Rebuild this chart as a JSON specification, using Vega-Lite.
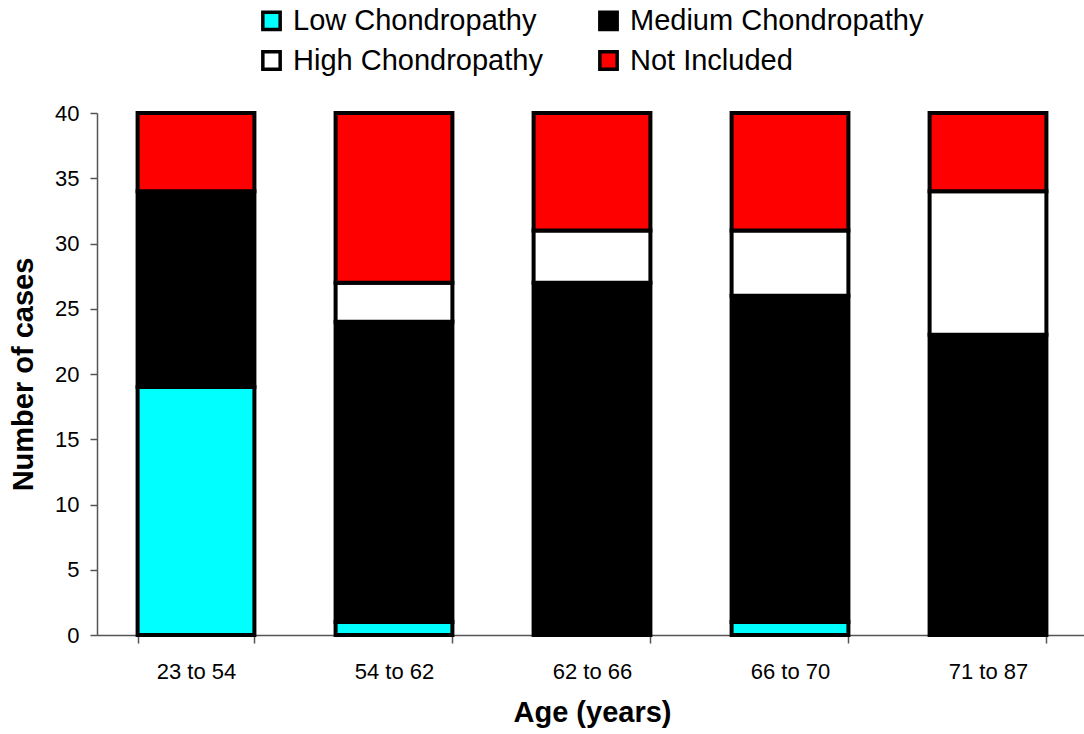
{
  "$schema": "https://vega.github.io/schema/vega-lite/v6.json",
  "width": 990,
  "height": 522,
  "autosize": {"type": "none"},
  "padding": {"left": 97, "top": 113, "right": 0, "bottom": 99},
  "background": "white",
  "config": {
    "view": {"stroke": null},
    "font": "Liberation Sans"
  },
  "data": {
    "values": [
      {"age": "23 to 54", "grade": "Low Chondropathy", "level": 1, "cases": 19},
      {"age": "23 to 54", "grade": "Medium Chondropathy", "level": 2, "cases": 15},
      {"age": "23 to 54", "grade": "Not Included", "level": 4, "cases": 6},
      {"age": "54 to 62", "grade": "Low Chondropathy", "level": 1, "cases": 1},
      {"age": "54 to 62", "grade": "Medium Chondropathy", "level": 2, "cases": 23},
      {"age": "54 to 62", "grade": "High Chondropathy", "level": 3, "cases": 3},
      {"age": "54 to 62", "grade": "Not Included", "level": 4, "cases": 13},
      {"age": "62 to 66", "grade": "Medium Chondropathy", "level": 2, "cases": 27},
      {"age": "62 to 66", "grade": "High Chondropathy", "level": 3, "cases": 4},
      {"age": "62 to 66", "grade": "Not Included", "level": 4, "cases": 9},
      {"age": "66 to 70", "grade": "Low Chondropathy", "level": 1, "cases": 1},
      {"age": "66 to 70", "grade": "Medium Chondropathy", "level": 2, "cases": 25},
      {"age": "66 to 70", "grade": "High Chondropathy", "level": 3, "cases": 5},
      {"age": "66 to 70", "grade": "Not Included", "level": 4, "cases": 9},
      {"age": "71 to 87", "grade": "Medium Chondropathy", "level": 2, "cases": 23},
      {"age": "71 to 87", "grade": "High Chondropathy", "level": 3, "cases": 11},
      {"age": "71 to 87", "grade": "Not Included", "level": 4, "cases": 6}
    ]
  },
  "mark": {"type": "bar", "stroke": "black", "strokeWidth": 4, "strokeJoin": "miter"},
  "encoding": {
    "x": {
      "field": "age",
      "type": "nominal",
      "sort": null,
      "scale": {"paddingInner": 0.41, "paddingOuter": 0.205},
      "axis": {
        "title": "Age (years)",
        "titleFontSize": 29,
        "titleFontWeight": "bold",
        "titleColor": "black",
        "titlePadding": 16,
        "labelAngle": 0,
        "labelFontSize": 22,
        "labelColor": "black",
        "labelPadding": 18,
        "tickBand": "extent",
        "tickSize": 8,
        "tickColor": "#555555",
        "domainColor": "#555555",
        "domainWidth": 1.5,
        "tickWidth": 1.5
      }
    },
    "y": {
      "field": "cases",
      "type": "quantitative",
      "stack": "zero",
      "scale": {"domain": [0, 40], "nice": false},
      "axis": {
        "title": "Number of cases",
        "titleFontSize": 29,
        "titleFontWeight": "bold",
        "titleColor": "black",
        "titlePadding": 16,
        "values": [0, 5, 10, 15, 20, 25, 30, 35, 40],
        "grid": false,
        "labelFontSize": 22,
        "labelColor": "black",
        "labelPadding": 11,
        "tickSize": 7,
        "tickColor": "#555555",
        "domainColor": "#555555",
        "domainWidth": 1.5,
        "tickWidth": 1.5
      }
    },
    "color": {
      "field": "grade",
      "type": "nominal",
      "scale": {
        "domain": ["Low Chondropathy", "High Chondropathy", "Medium Chondropathy", "Not Included"],
        "range": ["#00FFFF", "#FFFFFF", "#000000", "#FF0000"]
      },
      "legend": {
        "title": null,
        "orient": "none",
        "legendX": 160,
        "legendY": -107,
        "columns": 2,
        "columnPadding": 49,
        "rowPadding": 7,
        "symbolType": "square",
        "symbolSize": 300,
        "symbolStrokeColor": "black",
        "symbolStrokeWidth": 3.5,
        "labelFontSize": 29,
        "labelColor": "black",
        "labelOffset": 7,
        "labelLimit": 400
      }
    },
    "order": {"field": "level", "type": "quantitative", "sort": "ascending"}
  }
}
